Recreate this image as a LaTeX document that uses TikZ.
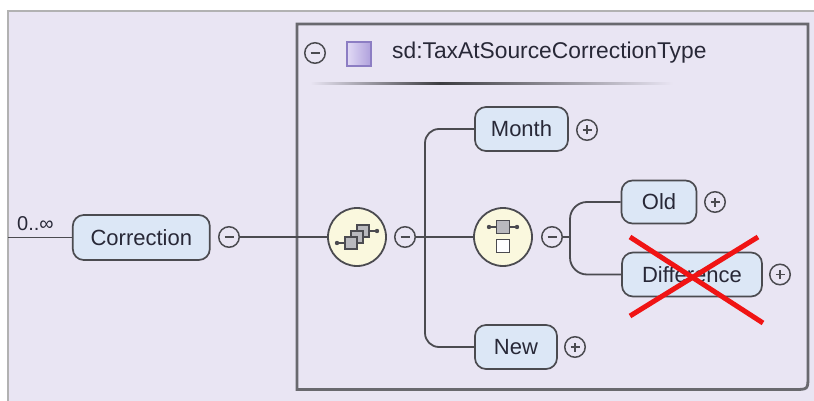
\documentclass[tikz,border=0pt]{standalone}
\usepackage{fontspec}
\setmainfont{Liberation Sans}
\definecolor{bg}{RGB}{233,229,243}
\definecolor{edge}{RGB}{75,75,80}
\definecolor{elemfill}{RGB}{220,231,246}
\definecolor{compfill}{RGB}{250,248,222}
\definecolor{txt}{RGB}{40,40,55}
\definecolor{boxedge}{RGB}{105,105,110}
\definecolor{iconfill}{RGB}{185,185,190}
\definecolor{sqedge}{RGB}{140,125,195}
\definecolor{sqlight}{RGB}{225,218,245}
\definecolor{sqdark}{RGB}{175,160,220}
\definecolor{xred}{RGB}{240,20,20}
\begin{document}
\begin{tikzpicture}[x=1pt,y=-1pt,
  elem/.style={draw=edge, line width=1.7pt, fill=elemfill, rounded corners=11pt, inner sep=0pt, text=txt, font=\fontsize{22}{26}\selectfont},
  conn/.style={draw=edge, line width=1.8pt},
  pmbase/.style={circle, draw=edge, line width=1.5pt, fill=bg, minimum size=20.5pt, inner sep=0pt},
  minus/.style={pmbase, path picture={\draw[edge, line width=1.4pt] ([xshift=-4.5pt]path picture bounding box.center) -- ([xshift=4.5pt]path picture bounding box.center);}},
  plus/.style={pmbase, path picture={\draw[edge, line width=1.4pt] ([xshift=-4.5pt]path picture bounding box.center) -- ([xshift=4.5pt]path picture bounding box.center); \draw[edge, line width=1.4pt] ([yshift=-4.5pt]path picture bounding box.center) -- ([yshift=4.5pt]path picture bounding box.center);}},
  comp/.style={circle, draw=edge, line width=1.8pt, fill=compfill, minimum size=58pt, inner sep=0pt},
  isq/.style={draw=edge, line width=1.1pt, fill=iconfill},
  wsq/.style={draw=edge, line width=1.1pt, fill=white},
  stub/.style={draw=edge, line width=1.3pt},
  xline/.style={draw=xred, line width=5pt}
]
\useasboundingbox (0,0) rectangle (814,401);
% background
\fill[white] (0,0) rectangle (814,401);
\fill[bg] (8,11) rectangle (814,401);
\draw[gray!60, line width=1.2pt] (8,401) -- (8,11) -- (814,11);
% inner type box
\draw[boxedge, line width=2.8pt] (297,24) -- (808,24) -- (808,376) .. controls (808,389.5) .. (794,389.5) -- (297,389.5) -- cycle;
% header
\node[minus] (hm) at (315,53) {};
\node[draw=sqedge, line width=1.2pt, left color=sqlight, right color=sqdark, minimum size=24pt, inner sep=0pt] (hsq) at (359,54) {};
\node[anchor=west, inner sep=0pt, text=txt, font=\fontsize{22.8}{26}\selectfont] (htitle) at (392,53) {sd:TaxAtSourceCorrectionType};
\shade[left color=bg, right color=edge!80!black] (310,82.3) rectangle (440,84.7);
\shade[left color=edge!80!black, right color=bg] (440,82.3) rectangle (673,84.7);
% cardinality and start
\coordinate (start) at (8,237.5);
\node[anchor=south west, inner sep=0pt, text=txt, font=\fontsize{20}{22}\selectfont] (card) at (17,231) {0..∞};
% element nodes
\node[elem, minimum width=137pt, minimum height=45pt] (corr) at (141.3,237.5) {Correction};
\node[minus] (m1) at (229,237) {};
\node[comp] (seq) at (357,237) {};
\node[minus] (m2) at (405,237) {};
\coordinate (b1) at (425,237);
\node[elem, minimum width=93pt, minimum height=44pt] (month) at (521.5,129) {Month};
\node[plus] (pmonth) at (587,130) {};
\node[elem, minimum width=82pt, minimum height=44pt] (new) at (516,347) {New};
\node[plus] (pnew) at (575,347) {};
\node[comp] (cho) at (503,237) {};
\node[minus] (m3) at (552,237) {};
\coordinate (b2) at (570,237);
\node[elem, minimum width=75pt, minimum height=43pt] (old) at (659,202) {Old};
\node[plus] (pold) at (715,202) {};
\node[elem, minimum width=140pt, minimum height=44pt] (diff) at (692,274.5) {Difference};
\node[plus] (pdiff) at (780,274.5) {};
% connectors
\draw[conn] (start) -- (corr.west);
\draw[conn] (m1.east) -- (seq.west);
\draw[conn] (m2.east) -- (cho.west);
\draw[conn, rounded corners=14pt] (month.west) -| (b1) |- (new.west);
\draw[conn] (m3.east) -- (b2);
\draw[conn, rounded corners=17pt] (old.west) -| (b2) |- (diff.west);
% sequence icon
\begin{scope}[shift={(seq)}]
  \draw[stub] (-20,6) -- (-12,6);
  \fill[edge] (-20,6) circle (2.2pt);
  \draw[stub] (12,-6) -- (20,-6);
  \fill[edge] (20,-6) circle (2.2pt);
  \draw[isq] (0,-12) rectangle (12,0);
  \draw[isq] (-6,-6) rectangle (6,6);
  \draw[isq] (-12,0) rectangle (0,12);
\end{scope}
% choice icon
\begin{scope}[shift={(cho)}]
  \draw[stub] (-14,-10) -- (14,-10);
  \fill[edge] (-14,-10) circle (2.2pt);
  \fill[edge] (14,-10) circle (2.2pt);
  \draw[isq] (-6.5,-16.5) rectangle (6.5,-3.5);
  \draw[wsq] (-6.5,2.5) rectangle (6.5,15.5);
\end{scope}
% red cross
\coordinate (x1) at (630,237);
\coordinate (x2) at (763,323);
\coordinate (x3) at (758,237);
\coordinate (x4) at (630,316);
\draw[xline] (x1) -- (x2);
\draw[xline] (x3) -- (x4);
\end{tikzpicture}
\end{document}
